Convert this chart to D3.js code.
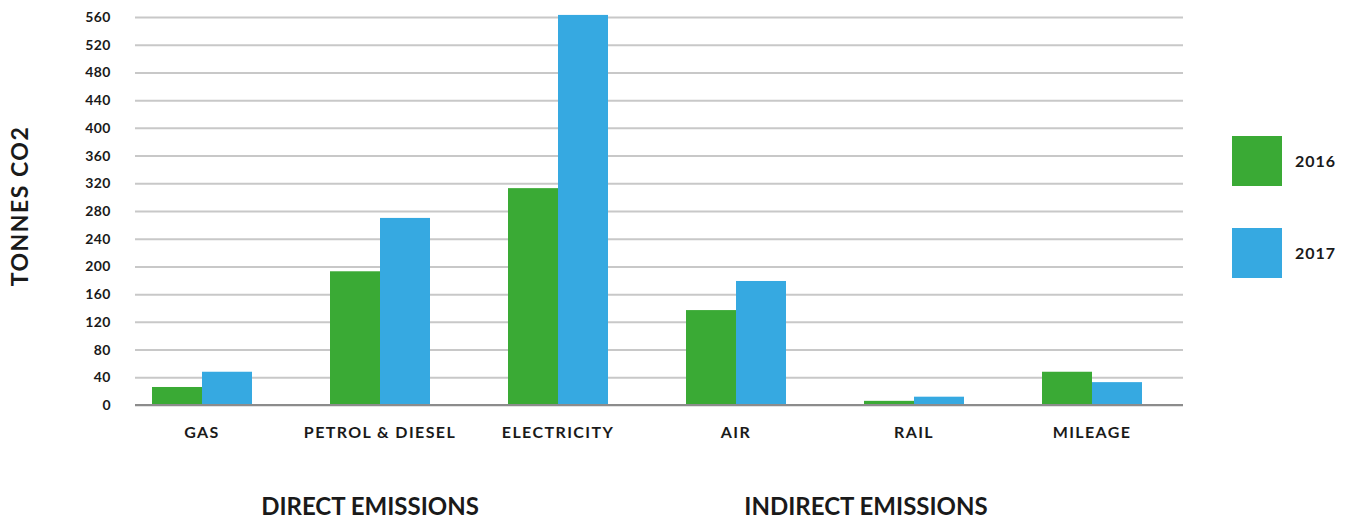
<!DOCTYPE html>
<html>
<head>
<meta charset="utf-8">
<script src="https://cdn.jsdelivr.net/npm/d3@7"></script>
<style>
  body { margin: 0; background: #fff; }
  text { font-family: Lato, "Open Sans", sans-serif; font-weight: bold; fill: #1a1a1a; }
</style>
</head>
<body>
<div id="chart"></div>
<script>
// chart data
const categories = ["GAS", "PETROL & DIESEL", "ELECTRICITY", "AIR", "RAIL", "MILEAGE"];
const years = ["2016", "2017"];
const values2016 = [26, 193, 313, 137, 6, 48];
const values2017 = [48, 270, 563, 179, 12, 33];
const yTicks = [0, 40, 80, 120, 160, 200, 240, 280, 320, 360, 400, 440, 480, 520, 560];
const groupLabels = ["DIRECT EMISSIONS", "INDIRECT EMISSIONS"];

const colors = { "2016": "#3aaa35", "2017": "#36a9e1" };
const width = 1354, height = 524;

const svg = d3.select("#chart").append("svg")
    .attr("width", width).attr("height", height);

let x = d3.scaleBand().domain(categories).range([113, 1181]);
let xInner = d3.scaleBand().domain(years).range([x.bandwidth() / 2 - 50, x.bandwidth() / 2 + 50]);
let y = d3.scaleLinear().domain([0, 560]).range([405, 17]);

// gridlines
let yAxis = d3.axisLeft(y).tickValues(yTicks).tickSize(-(1183 - 135)).tickPadding(24);
let yGroup = svg.append("g").attr("transform", "translate(135,0)").call(yAxis);
yGroup.select(".domain").remove();
yGroup.selectAll(".tick line").attr("stroke", "#c8c8c8").attr("stroke-width", 2);
yGroup.selectAll(".tick text").style("font-size", "14px").style("letter-spacing", "0.5px").attr("fill", "#1a1a1a");

// bars
let rows = categories.map((c, i) => ({ cat: c, vals: [values2016[i], values2017[i]] }));
let groups = svg.append("g").selectAll("g").data(rows).join("g")
    .attr("transform", d => "translate(" + x(d.cat) + ",0)");
groups.selectAll("rect").data(d => d.vals.map((v, j) => ({ year: years[j], v: v }))).join("rect")
    .attr("x", d => xInner(d.year))
    .attr("width", xInner.bandwidth())
    .attr("y", d => y(d.v))
    .attr("height", d => y(0) - y(d.v))
    .attr("fill", d => colors[d.year]);

// baseline
svg.append("line").attr("x1", 135).attr("x2", 1183).attr("y1", y(0)).attr("y2", y(0))
    .attr("stroke", "#8c8c8c").attr("stroke-width", 2);

// category labels
let xAxis = d3.axisBottom(x).tickSize(0).tickPadding(22);
let xGroup = svg.append("g").attr("transform", "translate(0," + y(0) + ")").call(xAxis);
xGroup.select(".domain").remove();
xGroup.selectAll(".tick text").style("font-size", "16px").style("letter-spacing", "1.4px").attr("fill", "#1a1a1a");

// group labels
svg.selectAll(".grp").data(groupLabels).join("text")
    .attr("class", "grp")
    .attr("x", (d, i) => i === 0 ? 370 : 866)
    .attr("y", 515)
    .attr("text-anchor", "middle")
    .style("font-size", "24px")
    .text(d => d);

// y title
svg.append("text")
    .attr("transform", "translate(28,206) rotate(-90)")
    .attr("text-anchor", "middle")
    .style("font-size", "23px")
    .style("letter-spacing", "1.5px")
    .text("TONNES CO2");

// legend
let legend = svg.append("g").selectAll("g").data(years).join("g")
    .attr("transform", (d, i) => "translate(1232," + (136 + i * 92) + ")");
legend.append("rect").attr("width", 50).attr("height", 50).attr("fill", d => colors[d]);
legend.append("text").attr("x", 63).attr("y", 31).style("font-size", "16px").style("letter-spacing", "1px").text(d => d);
</script>
</body>
</html>
